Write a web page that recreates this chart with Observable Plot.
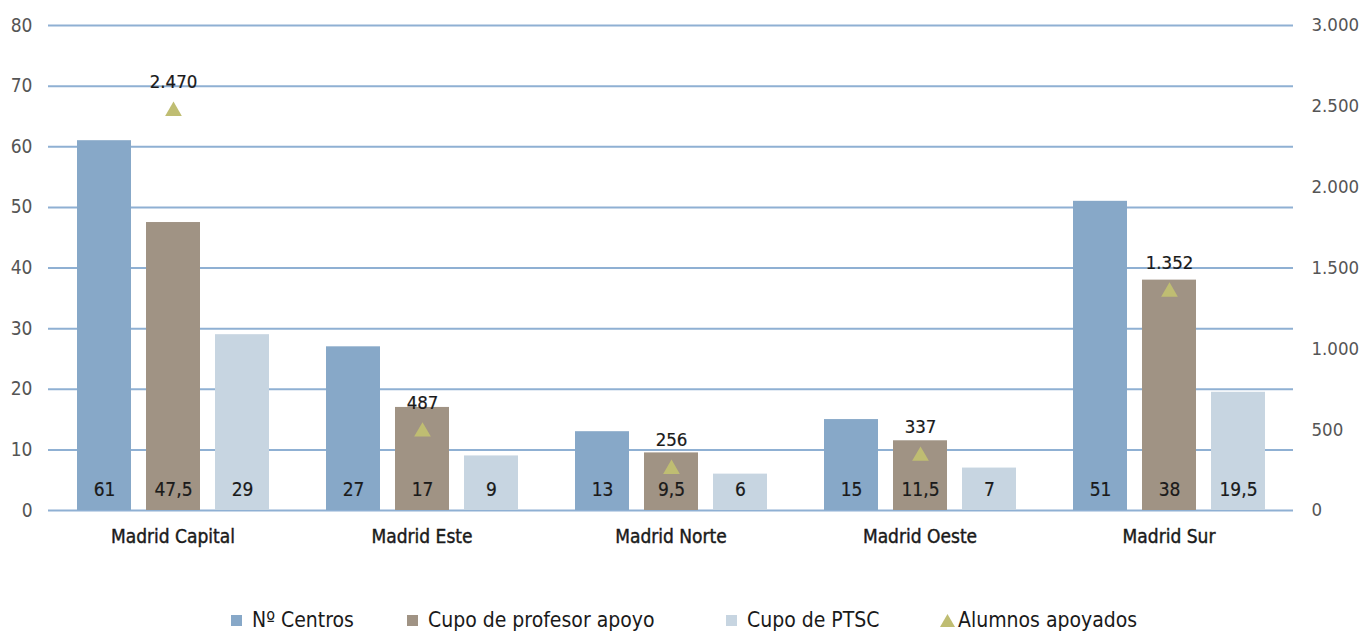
<!DOCTYPE html>
<html>
<head>
<meta charset="utf-8">
<script src="https://cdn.jsdelivr.net/npm/d3@7"></script>
<script src="https://cdn.jsdelivr.net/npm/@observablehq/plot@0.6"></script>
<style>
  html, body { margin: 0; padding: 0; background: #fff; }
  body { width: 1363px; height: 632px; position: relative; overflow: hidden;
         font-family: "Liberation Sans Narrow", "DejaVu Sans Condensed", "Roboto", sans-serif; }
  #legend { position: absolute; left: 0; top: 607px; width: 1363px; height: 26px;
            font-size: 21px; color: #1a1a1a; white-space: nowrap; }
  #legend .item { position: absolute; top: 0; height: 26px; display: flex; align-items: center; }
  #legend .sw { width: 11px; height: 11px; margin-right: 10px; }
  #legend svg { margin-right: 3px; }
  g[aria-label="fx-axis tick label"] text { stroke: #1a1a1a; stroke-width: 0.4px; }
  g[aria-label="text"] text { stroke: #1a1a1a; stroke-width: 0.2px; }
</style>
</head>
<body>
<div id="chart"></div>
<div id="legend"></div>
<script>
// Zones (DAT) and their values
const regions = ["Madrid Capital", "Madrid Este", "Madrid Norte", "Madrid Oeste", "Madrid Sur"];
const centros = [61, 27, 13, 15, 51];
const cupoProfesor = [47.5, 17, 9.5, 11.5, 38];
const cupoPTSC = [29, 9, 6, 7, 19.5];
const alumnos = [2470, 487, 256, 337, 1352];

const seriesNames = ["Nº Centros", "Cupo de profesor apoyo", "Cupo de PTSC"];
const seriesColors = ["#87a8c8", "#a09384", "#c7d5e1"];
const alumnosName = "Alumnos apoyados";
const alumnosColor = "#bfbd72";

const leftTicks = [0, 10, 20, 30, 40, 50, 60, 70, 80];
const rightTicks = [0, 500, 1000, 1500, 2000, 2500, 3000];
const leftMax = 80;
const rightMax = 3000;

// Spanish number format: "." thousands, "," decimals
const es = d3.formatLocale({decimal: ",", thousands: ".", grouping: [3], currency: ["", " €"]});
const fmtInt = es.format(",d");
const fmtNum = v => Number.isInteger(v) ? fmtInt(v) : es.format(",.1f")(v);

// Right-hand axis values are placed on the left scale
const toLeft = v => v * leftMax / rightMax;

const seriesValues = [centros, cupoProfesor, cupoPTSC];
const bars = regions.flatMap((r, i) =>
  seriesNames.map((s, j) => ({region: r, series: s, value: seriesValues[j][i]})));
const points = regions.map((r, i) => ({region: r, alumnos: alumnos[i]}));

const font = '"Liberation Sans Narrow", "DejaVu Sans Condensed", "Roboto", sans-serif';

const chart = Plot.plot({
  width: 1363,
  height: 590,
  marginLeft: 48,
  marginRight: 70,
  marginTop: 25,
  marginBottom: 80,
  style: {fontFamily: font, fontSize: "19px", background: "white", color: "#222"},
  fx: {domain: regions, padding: 0, label: null},
  x: {domain: seriesNames, paddingInner: 0.223, paddingOuter: 0.403, axis: null},
  y: {domain: [0, leftMax]},
  color: {domain: seriesNames, range: seriesColors},
  marks: [
    Plot.ruleY(leftTicks, {stroke: "#8fb0d3", strokeWidth: 2}),
    Plot.barY(bars, {fx: "region", x: "series", y: "value", fill: "series"}),
    Plot.text(bars, {fx: "region", x: "series", y: 0, dy: -21, text: d => fmtNum(d.value),
      fontSize: 19, fill: "#1a1a1a"}),
    Plot.dot(points, {fx: "region", x: () => seriesNames[1], y: d => toLeft(d.alumnos),
      symbol: "triangle", r: 6.2, fill: alumnosColor, stroke: "none"}),
    Plot.text(points, {fx: "region", x: () => seriesNames[1], y: d => toLeft(d.alumnos),
      dy: -29, text: d => fmtInt(d.alumnos), fontSize: 18.5, fill: "#1a1a1a"}),
    Plot.axisY({anchor: "left", ticks: leftTicks, tickSize: 0, tickPadding: 16,
      label: null, fontSize: 19, fill: "#555"}),
    Plot.axisY({anchor: "right", ticks: rightTicks.map(toLeft),
      tickFormat: v => fmtInt(Math.round(v * rightMax / leftMax)),
      tickSize: 0, tickPadding: 18, label: null, fontSize: 18.5, fill: "#555"}),
    Plot.axisFx({anchor: "bottom", tickSize: 0, tickPadding: 19, label: null,
      fontSize: 19, fill: "#1a1a1a"})
  ]
});
document.getElementById("chart").appendChild(chart);

// Legend below the chart
const legend = document.getElementById("legend");
const legendLeft = [231, 407, 726, 940];
seriesNames.forEach((s, i) => {
  const item = document.createElement("div");
  item.className = "item";
  item.style.left = legendLeft[i] + "px";
  item.innerHTML = `<span class="sw" style="background:${seriesColors[i]}"></span><span>${s}</span>`;
  legend.appendChild(item);
});
const tri = document.createElement("div");
tri.className = "item";
tri.style.left = legendLeft[3] + "px";
tri.innerHTML = `<svg width="15" height="13" viewBox="0 0 15 13"><path d="M7.5 0L15 13H0Z" fill="${alumnosColor}"/></svg><span>${alumnosName}</span>`;
legend.appendChild(tri);
</script>
</body>
</html>
